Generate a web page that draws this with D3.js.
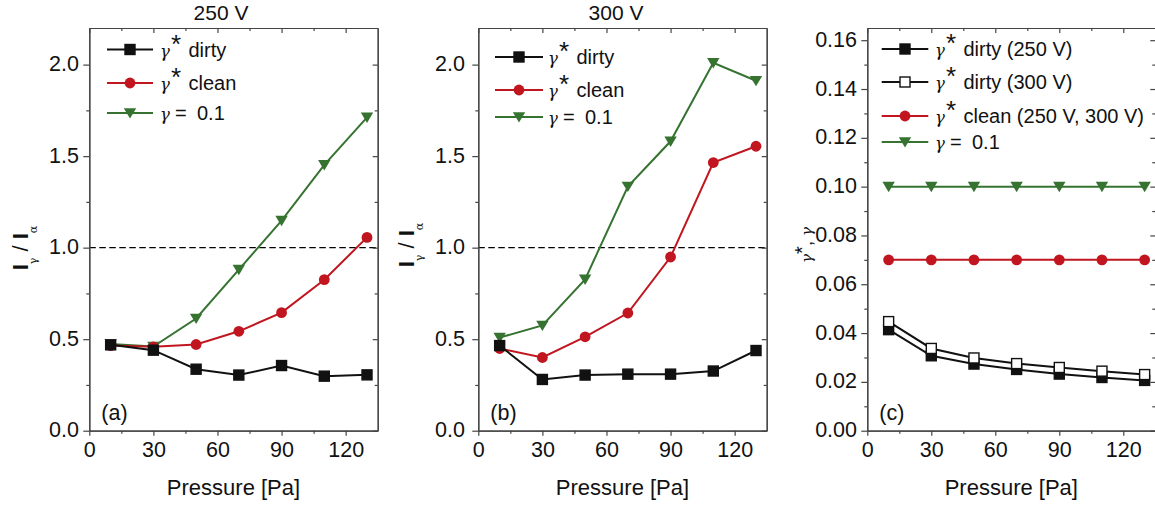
<!DOCTYPE html>
<html>
<head>
<meta charset="utf-8">
<script src="https://cdn.jsdelivr.net/npm/d3@7/dist/d3.min.js"></script>
<style>
  html, body { margin: 0; padding: 0; background: #fff; }
  svg { display: block; font-family: "Liberation Sans", Arial, sans-serif; }
</style>
</head>
<body>
<svg id="chart" width="1155" height="506"></svg>
<script>
// Pressure values shared by all three panels [Pa]
const pressure = [10, 30, 50, 70, 90, 110, 130];

// (a) 250 V: intensity ratio I_gamma / I_alpha
const a_dirty = [0.469, 0.440, 0.336, 0.304, 0.356, 0.298, 0.305];
const a_clean = [0.465, 0.458, 0.471, 0.543, 0.645, 0.825, 1.056];
const a_gamma = [0.474, 0.460, 0.613, 0.880, 1.148, 1.452, 1.712];

// (b) 300 V
const b_dirty = [0.465, 0.280, 0.304, 0.309, 0.309, 0.326, 0.438];
const b_clean = [0.449, 0.400, 0.513, 0.643, 0.949, 1.465, 1.554];
const b_gamma = [0.509, 0.575, 0.827, 1.334, 1.581, 2.010, 1.912];

// (c) secondary emission coefficients
const c_dirty250 = [0.0414, 0.0307, 0.0273, 0.0251, 0.0232, 0.0218, 0.0206];
const c_dirty300 = [0.0447, 0.0337, 0.0298, 0.0275, 0.0259, 0.0244, 0.0230];
const c_clean    = [0.07, 0.07, 0.07, 0.07, 0.07, 0.07, 0.07];
const c_gamma    = [0.1, 0.1, 0.1, 0.1, 0.1, 0.1, 0.1];

// Tick values
const xMajor = [0, 30, 60, 90, 120];
const xMinor = [15, 45, 75, 105];
const yMajorAB = [0, 0.5, 1.0, 1.5, 2.0];
const yMinorAB = [0.25, 0.75, 1.25, 1.75];
const yMajorC = [0, 0.02, 0.04, 0.06, 0.08, 0.10, 0.12, 0.14, 0.16];
const yMinorC = [0.01, 0.03, 0.05, 0.07, 0.09, 0.11, 0.13, 0.15];

const BLACK = "#111", RED = "#c1161f", GREEN = "#367331";
const svg = d3.select("#chart");

const TOP = 28, BOTTOM = 430.7;
const TICK_FONT = 21.5;

function drawMarker(g, kind, cx, cy, color) {
  if (kind === "square" || kind === "open") {
    g.append("rect").attr("x", cx - 5).attr("y", cy - 5).attr("width", 10).attr("height", 10)
      .attr("fill", kind === "open" ? "#fff" : color).attr("stroke", color).attr("stroke-width", 1.4);
  } else if (kind === "circle") {
    g.append("circle").attr("cx", cx).attr("cy", cy).attr("r", 5.4).attr("fill", color);
  } else if (kind === "tri") {
    g.append("path").attr("d", `M${cx - 6.2},${cy - 4.8}L${cx + 6.2},${cy - 4.8}L${cx},${cy + 5.6}Z`)
      .attr("fill", color);
  }
}

function panel(cfg) {
  const x = d3.scaleLinear([0, 135], [cfg.left, cfg.right]);
  const y = d3.scaleLinear(cfg.yDomain, [BOTTOM, TOP]);
  const g = svg.append("g");

  // dashed reference level
  if (cfg.refLine != null) {
    g.append("line").attr("x1", cfg.left).attr("x2", cfg.right)
      .attr("y1", y(cfg.refLine)).attr("y2", y(cfg.refLine))
      .attr("stroke", "#000").attr("stroke-width", 1.2).attr("stroke-dasharray", "6.5,3.5");
  }

  // series, drawn back to front
  cfg.series.forEach(s => {
    const line = d3.line().x((d, i) => x(pressure[i])).y(d => y(d));
    g.append("path").attr("d", line(s.values)).attr("fill", "none")
      .attr("stroke", s.color).attr("stroke-width", 2);
    s.values.forEach((v, i) => drawMarker(g, s.marker, x(pressure[i]), y(v), s.color));
  });

  // frame with ticks on all four sides
  const axStyle = sel => {
    sel.selectAll(".domain").attr("stroke", "#444").attr("stroke-width", 1.2);
    sel.selectAll(".tick line").attr("stroke", "#444").attr("stroke-width", 1.2);
    sel.selectAll("text").attr("font-size", TICK_FONT).attr("fill", "#111")
      .attr("font-family", "'Liberation Sans', Arial, sans-serif");
  };
  g.append("g").attr("transform", `translate(0,${BOTTOM})`)
    .call(d3.axisBottom(x).tickValues(xMajor).tickSize(5).tickSizeOuter(0).tickPadding(6).tickFormat(d3.format("d")))
    .call(axStyle);
  g.append("g").attr("transform", `translate(0,${BOTTOM})`)
    .call(d3.axisBottom(x).tickValues(xMinor).tickSize(3).tickSizeOuter(0).tickFormat(""))
    .call(axStyle);
  g.append("g").attr("transform", `translate(0,${TOP})`)
    .call(d3.axisTop(x).tickValues(xMajor).tickSize(-5).tickSizeOuter(0).tickFormat(""))
    .call(axStyle);
  g.append("g").attr("transform", `translate(0,${TOP})`)
    .call(d3.axisTop(x).tickValues(xMinor).tickSize(-3).tickSizeOuter(0).tickFormat(""))
    .call(axStyle);
  g.append("g").attr("transform", `translate(${cfg.left},0)`)
    .call(d3.axisLeft(y).tickValues(cfg.yMajor).tickSize(6).tickSizeOuter(0).tickPadding(cfg.yPad).tickFormat(cfg.yFormat))
    .call(axStyle)
    .selectAll("text").attr("dy", "0.28em");
  g.append("g").attr("transform", `translate(${cfg.left},0)`)
    .call(d3.axisLeft(y).tickValues(cfg.yMinor).tickSize(3).tickSizeOuter(0).tickFormat(""))
    .call(axStyle);
  g.append("g").attr("transform", `translate(${cfg.right},0)`)
    .call(d3.axisRight(y).tickValues(cfg.yMajor).tickSize(-5).tickSizeOuter(0).tickFormat(""))
    .call(axStyle);
  g.append("g").attr("transform", `translate(${cfg.right},0)`)
    .call(d3.axisRight(y).tickValues(cfg.yMinor).tickSize(-3).tickSizeOuter(0).tickFormat(""))
    .call(axStyle);

  // x axis title
  g.append("text").attr("x", (cfg.left + cfg.right) / 2).attr("y", 495)
    .attr("text-anchor", "middle").attr("font-size", 22).attr("fill", "#111").text("Pressure [Pa]");

  // panel tag
  g.append("text").attr("x", cfg.left + 12).attr("y", 420)
    .attr("font-size", 21.5).attr("fill", "#111").text(cfg.tag);

  // column title
  if (cfg.title) {
    g.append("text").attr("x", cfg.titleX).attr("y", 19.5)
      .attr("text-anchor", "middle").attr("font-size", 21).attr("fill", "#111").text(cfg.title);
  }

  // legend
  const L = cfg.legend;
  cfg.legendOrder.forEach((si, i) => {
    const s = cfg.series[si];
    const ly = L.rows[i];
    g.append("line").attr("x1", L.x0).attr("x2", L.x1).attr("y1", ly).attr("y2", ly)
      .attr("stroke", s.color).attr("stroke-width", 2);
    drawMarker(g, s.marker, (L.x0 + L.x1) / 2, ly, s.color);
    const t = g.append("text").attr("y", ly + 7).attr("fill", "#111").attr("font-size", 20);
    t.append("tspan").attr("x", L.tx).attr("font-family", "'DejaVu Serif', serif")
      .attr("font-style", "italic").attr("font-size", 16.5).text("γ");
    if (s.star) {
      t.append("tspan").attr("x", L.tx + 11).attr("dy", -4).attr("font-size", 26).text("*");
      t.append("tspan").attr("x", L.tx + 28.5).attr("dy", 4).text(s.label);
    } else {
      t.append("tspan").attr("x", L.tx + 15).text("=");
      t.append("tspan").attr("x", L.tx + 37).text(s.label);
    }
  });

  return g;
}

// rotated "I_γ / I_α" axis title
function ratioLabel(cx, cy) {
  const t = svg.append("text").attr("transform", `translate(${cx},${cy}) rotate(-90)`)
    .attr("text-anchor", "middle").attr("fill", "#111");
  t.append("tspan").attr("font-size", 22).attr("font-weight", "bold").text("I");
  t.append("tspan").attr("font-size", 11).attr("dy", 9).attr("font-family", "'DejaVu Serif', serif").text("γ");
  t.append("tspan").attr("font-size", 22).attr("dy", -9).text(" / ");
  t.append("tspan").attr("font-size", 22).attr("font-weight", "bold").text("I");
  t.append("tspan").attr("font-size", 11).attr("dy", 9).attr("font-family", "'DejaVu Serif', serif").text("α");
}

panel({
  left: 89.3, right: 377.7, yDomain: [0, 2.2], yMajor: yMajorAB, yMinor: yMinorAB,
  yFormat: d3.format(".1f"), yPad: 4.3, refLine: 1.0, tag: "(a)", title: "250 V", titleX: 221,
  legend: { x0: 107, x1: 153, tx: 160, rows: [49.5, 83, 113] },
  legendOrder: [2, 1, 0],
  series: [
    { values: a_gamma, color: GREEN, marker: "tri", star: false, label: "0.1" },
    { values: a_clean, color: RED, marker: "circle", star: true, label: "clean" },
    { values: a_dirty, color: BLACK, marker: "square", star: true, label: "dirty" }
  ]
});
ratioLabel(28, 248);

panel({
  left: 478.3, right: 766.7, yDomain: [0, 2.2], yMajor: yMajorAB, yMinor: yMinorAB,
  yFormat: d3.format(".1f"), yPad: 7.3, refLine: 1.0, tag: "(b)", title: "300 V", titleX: 616,
  legend: { x0: 495, x1: 543, tx: 548, rows: [57, 90, 117] },
  legendOrder: [2, 1, 0],
  series: [
    { values: b_gamma, color: GREEN, marker: "tri", star: false, label: "0.1" },
    { values: b_clean, color: RED, marker: "circle", star: true, label: "clean" },
    { values: b_dirty, color: BLACK, marker: "square", star: true, label: "dirty" }
  ]
});
ratioLabel(414, 245);

panel({
  left: 867.3, right: 1155.3, yDomain: [0, 0.165], yMajor: yMajorC, yMinor: yMinorC,
  yFormat: d3.format(".2f"), yPad: 4.3, refLine: null, tag: "(c)",
  legend: { x0: 881.7, x1: 928.3, tx: 935, rows: [49, 82, 116, 142] },
  legendOrder: [2, 3, 1, 0],
  series: [
    { values: c_gamma, color: GREEN, marker: "tri", star: false, label: "0.1" },
    { values: c_clean, color: RED, marker: "circle", star: true, label: "clean (250 V, 300 V)" },
    { values: c_dirty250, color: BLACK, marker: "square", star: true, label: "dirty (250 V)" },
    { values: c_dirty300, color: BLACK, marker: "open", star: true, label: "dirty (300 V)" }
  ]
});

// rotated "γ*, γ" axis title
{
  const t = svg.append("text").attr("transform", "translate(812,245) rotate(-90)")
    .attr("text-anchor", "middle").attr("fill", "#111").attr("font-size", 18);
  t.append("tspan").attr("font-family", "'DejaVu Serif', serif").attr("font-style", "italic").attr("font-size", 15).text("γ");
  t.append("tspan").attr("font-size", 20).attr("dy", -3).text("*");
  t.append("tspan").attr("dy", 3).text(", ");
  t.append("tspan").attr("font-family", "'DejaVu Serif', serif").attr("font-style", "italic").attr("font-size", 15).text("γ");
}
</script>
</body>
</html>
